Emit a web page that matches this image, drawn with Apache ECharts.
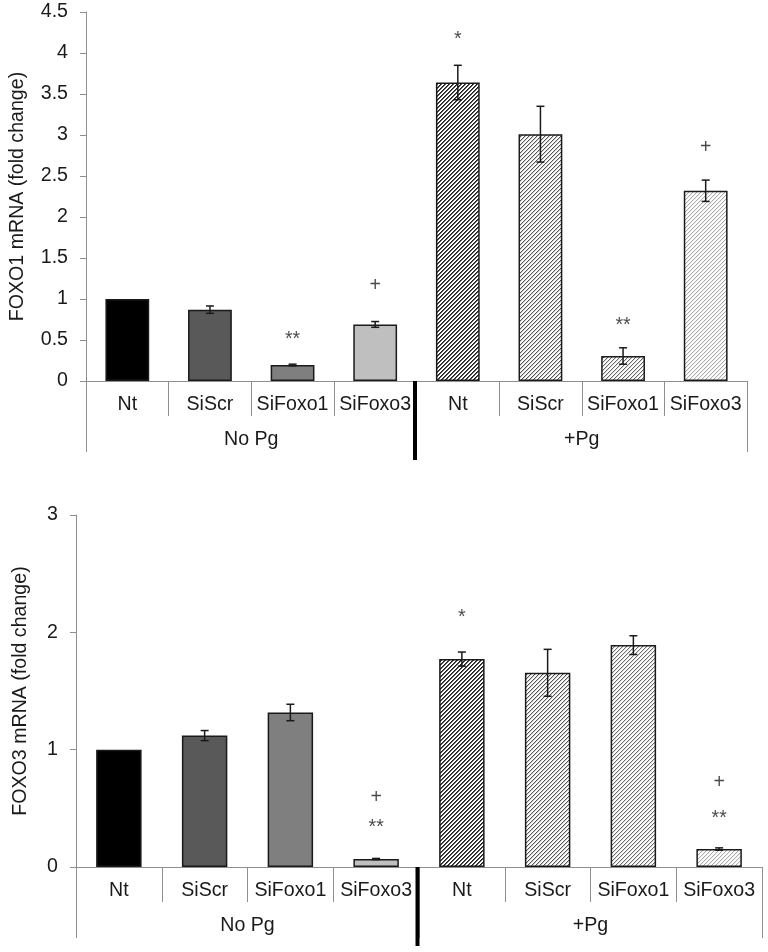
<!DOCTYPE html>
<html>
<head>
<meta charset="utf-8">
<script src="https://cdn.jsdelivr.net/npm/echarts@6/dist/echarts.min.js"></script>
<style>
html,body{margin:0;padding:0;background:#fff;}
#chart{width:768px;height:952px;}
</style>
</head>
<body>
<div id="chart"></div>
<script>
// ---- data ----
const categories = ['Nt', 'SiScr', 'SiFoxo1', 'SiFoxo3', 'Nt', 'SiScr', 'SiFoxo1', 'SiFoxo3'];
const groups = ['No Pg', '+Pg'];
const separatorAfter = 3;

const foxo1Values = [1.0, 0.87, 0.195, 0.69, 3.64, 3.01, 0.305, 2.32];
const foxo1Errors = [0, 0.045, 0.01, 0.035, 0.21, 0.34, 0.10, 0.13];
const foxo1MarkIdx = [2, 3, 4, 6, 7];
const foxo1MarkY = [0.54, 1.16, 4.20, 0.71, 2.845];
const foxo1MarkText = ['**', '+', '*', '**', '+'];

const foxo3Values = [1.0, 1.12, 1.317, 0.068, 1.772, 1.655, 1.891, 0.153];
const foxo3Errors = [0, 0.043, 0.07, 0.005, 0.06, 0.20, 0.08, 0.01];
const foxo3MarkIdx = [3, 3, 4, 7, 7];
const foxo3MarkY = [0.593, 0.36, 2.15, 0.718, 0.437];
const foxo3MarkText = ['+', '**', '*', '+', '**'];

const foxo1Ticks = { min: 0, max: 4.5, interval: 0.5 };
const foxo3Ticks = { min: 0, max: 3, interval: 1 };

// ---- styles ----
const TEXT = '#1a1a1a';
const AXIS = '#8f8f8f';
const FONT = 'Liberation Sans, Arial, sans-serif';
const FS = 19.6;

function hatch(color, alphas) {
  const n = 4, c = document.createElement('canvas');
  c.width = n; c.height = n;
  const ctx = c.getContext('2d');
  ctx.fillStyle = '#fff'; ctx.fillRect(0, 0, n, n);
  for (let y = 0; y < n; y++) for (let x = 0; x < n; x++) {
    const k = (x + y) % n;
    if (alphas[k]) { ctx.globalAlpha = alphas[k]; ctx.fillStyle = color; ctx.fillRect(x, y, 1, 1); }
  }
  return { image: c, repeat: 'repeat' };
}
const fills1 = ['#000000', '#595959', '#7f7f7f', '#bfbfbf',
  hatch('#1e1e1e', [1, 0.75]), hatch('#555555', [1, 0.3]), hatch('#666666', [1, 0.25]), hatch('#aaaaaa', [1, 0.2])];
const fills3 = ['#000000', '#595959', '#7f7f7f', '#bfbfbf',
  hatch('#1e1e1e', [1, 0.75]), hatch('#555555', [1, 0.3]), hatch('#6e6e6e', [1, 0.25]), hatch('#aaaaaa', [1, 0.2])];

const grids = [
  { left: 79, top: 12, width: 668, height: 369 },
  { left: 76, top: 515, width: 686, height: 352 }
];

function xAxes(gi) {
  return [
    { type: 'category', gridIndex: gi, data: categories, position: 'bottom',
      axisLine: { lineStyle: { color: AXIS, width: 1 } },
      axisTick: { show: true, interval: 0, length: 35, lineStyle: { color: AXIS } },
      axisLabel: { interval: 0, margin: 14, fontSize: FS, color: TEXT, fontFamily: FONT } },
    { type: 'category', gridIndex: gi, data: groups, position: 'bottom',
      axisLine: { show: false },
      axisTick: { show: true, interval: 0, length: 71, lineStyle: { color: AXIS } },
      axisLabel: { interval: 0, margin: 49, fontSize: FS, color: TEXT, fontFamily: FONT } }
  ];
}
function yAxis(gi, t, name, gap, lm) {
  return { type: 'value', gridIndex: gi, min: t.min, max: t.max, interval: t.interval,
    name: name, nameLocation: 'middle', nameGap: gap,
    nameTextStyle: { fontSize: FS, color: TEXT, fontFamily: FONT },
    axisLine: { show: true, lineStyle: { color: AXIS } },
    axisTick: { show: true, length: 6, lineStyle: { color: AXIS } },
    splitLine: { show: false },
    axisLabel: { margin: lm, fontSize: FS, color: TEXT, fontFamily: FONT } };
}

function seriesFor(gi, values, errors, fills, mIdx, mY, mText) {
  const xi = gi * 2, yi = gi;
  return [
    { type: 'bar', xAxisIndex: xi, yAxisIndex: yi, barWidth: '53%', silent: true,
      data: values.map((v, i) => ({ value: v, itemStyle: { color: fills[i], borderColor: '#1a1a1a', borderWidth: 1.5 } })) },
    { type: 'custom', xAxisIndex: xi, yAxisIndex: yi, silent: true, z: 5,
      data: values.map((v, i) => [i, v - errors[i], v + errors[i]]).filter((d, i) => errors[i] > 0),
      renderItem: function (params, api) {
        const lo = api.coord([api.value(0), api.value(1)]);
        const hi = api.coord([api.value(0), api.value(2)]);
        const hw = 4, st = { stroke: '#1a1a1a', lineWidth: 1.5 };
        return { type: 'group', children: [
          { type: 'line', shape: { x1: hi[0], y1: hi[1], x2: lo[0], y2: lo[1] }, style: st },
          { type: 'line', shape: { x1: hi[0] - hw, y1: hi[1], x2: hi[0] + hw, y2: hi[1] }, style: st },
          { type: 'line', shape: { x1: lo[0] - hw, y1: lo[1], x2: lo[0] + hw, y2: lo[1] }, style: st }
        ] };
      } },
    { type: 'scatter', xAxisIndex: xi, yAxisIndex: yi, silent: true, symbolSize: 0,
      data: mIdx.map((c, i) => ({ value: [c, mY[i]],
        label: { show: true, position: 'inside', formatter: mText[i], fontSize: FS, color: TEXT, fontFamily: FONT,
          offset: mText[i].indexOf('*') >= 0 ? [0, 3] : [0, 0] } })) },
    { type: 'custom', xAxisIndex: xi, yAxisIndex: yi, silent: true, clip: false, z: 6,
      data: [[separatorAfter]],
      renderItem: function (params, api) {
        const p = api.coord([api.value(0), 0]);
        const w = api.size([1, 0])[0];
        const x = p[0] + w / 2 - 1.5;
        return { type: 'line', shape: { x1: x, y1: p[1], x2: x, y2: p[1] + 79 },
          style: { stroke: '#000', lineWidth: 4 } };
      } }
  ];
}

const chart = echarts.init(document.getElementById('chart'), null, { renderer: 'canvas' });
chart.setOption({
  backgroundColor: '#ffffff',
  animation: false,
  grid: grids,
  xAxis: [].concat(xAxes(0), xAxes(1)),
  yAxis: [yAxis(0, foxo1Ticks, 'FOXO1 mRNA (fold change)', 58, 18), yAxis(1, foxo3Ticks, 'FOXO3 mRNA (fold change)', 45, 18)],
  series: [].concat(
    seriesFor(0, foxo1Values, foxo1Errors, fills1, foxo1MarkIdx, foxo1MarkY, foxo1MarkText),
    seriesFor(1, foxo3Values, foxo3Errors, fills3, foxo3MarkIdx, foxo3MarkY, foxo3MarkText)
  )
});
</script>
</body>
</html>
